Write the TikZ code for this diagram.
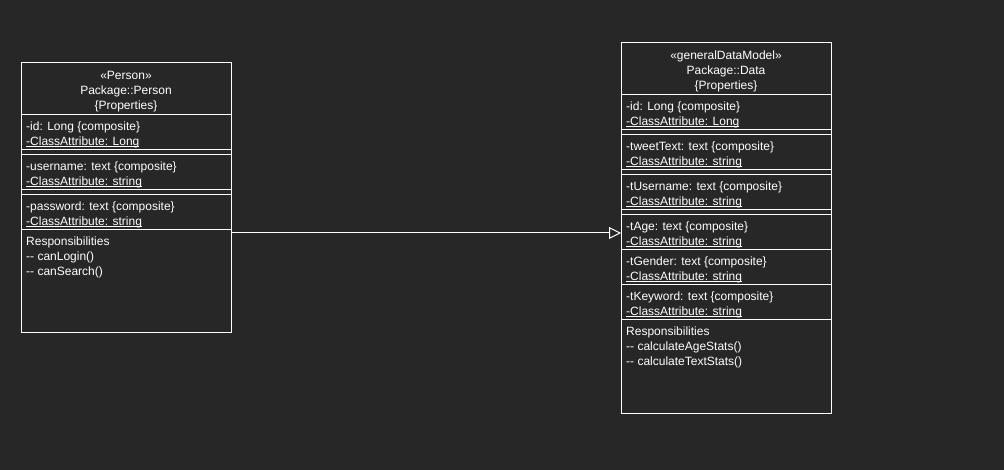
\documentclass[tikz,border=0pt]{standalone}
\usepackage{fontspec}
\setmainfont{Liberation Sans}
\usetikzlibrary{arrows.meta}
\definecolor{bg}{HTML}{272727}
\definecolor{fg}{HTML}{FFFFFF}
\tikzset{
  box/.style={draw=fg, line width=1pt, minimum width=210pt, anchor=north west, inner sep=0pt, outer sep=0pt},
  sep/.style={draw=fg, line width=1pt},
  attr/.style={text=fg, anchor=base west, inner sep=0pt, font=\fontsize{12pt}{15pt}\selectfont},
  head/.style={text=fg, anchor=base, inner sep=0pt, font=\fontsize{12pt}{15pt}\selectfont},
  gen/.style={draw=fg, line width=1pt, -{Triangle[open, length=12pt, width=12pt]}}
}
\newcommand{\ul}[1]{\setbox0\hbox{#1}\rlap{\rule[-2pt]{\wd0}{1pt}}\box0}
\begin{document}
\begin{tikzpicture}[x=1pt, y=-1pt]
\fill[bg] (0,0) rectangle (1004,470);
\useasboundingbox (0,0) rectangle (1004,470);
% ---------- Person ----------
\node[box, minimum height=270pt] (P) at (21,63) {};
\draw[sep] (P.west |- 0,115) -- (P.east |- 0,115);
\draw[sep] (P.west |- 0,150) -- (P.east |- 0,150);
\draw[sep] (P.west |- 0,155) -- (P.east |- 0,155);
\draw[sep] (P.west |- 0,190) -- (P.east |- 0,190);
\draw[sep] (P.west |- 0,195) -- (P.east |- 0,195);
\draw[sep] (P.west |- 0,230) -- (P.east |- 0,230);
\node[head] (ph1) at (126,80) {«Person»};
\node[head] (ph2) at (126,95) {Package::Person};
\node[head] (ph3) at (126,110) {\{Properties\}};
\node[attr] (pa1) at (26,130.5) {-id: Long \{composite\}};
\node[attr] (pa2) at (26,145.5) {\ul{-ClassAttribute: Long}};
\node[attr] (pa3) at (26,170.5) {-username: text \{composite\}};
\node[attr] (pa4) at (26,185.5) {\ul{-ClassAttribute: string}};
\node[attr] (pa5) at (26,210.5) {-password: text \{composite\}};
\node[attr] (pa6) at (26,225.5) {\ul{-ClassAttribute: string}};
\node[attr] (pr1) at (26,245.5) {Responsibilities};
\node[attr] (pr2) at (26,260.5) {-{}- canLogin()};
\node[attr] (pr3) at (26,275.5) {-{}- canSearch()};
% ---------- Data ----------
\node[box, minimum height=370pt] (D) at (621,43) {};
\foreach \yy in {95,130,135,170,175,210,215,250,285,320}
  \draw[sep] (D.west |- 0,\yy) -- (D.east |- 0,\yy);
\node[head] (dh1) at (726,60) {«generalDataModel»};
\node[head] (dh2) at (726,75) {Package::Data};
\node[head] (dh3) at (726,90) {\{Properties\}};
\node[attr] (da1) at (626,110.5) {-id: Long \{composite\}};
\node[attr] (da2) at (626,125.5) {\ul{-ClassAttribute: Long}};
\node[attr] (da3) at (626,150.5) {-tweetText: text \{composite\}};
\node[attr] (da4) at (626,165.5) {\ul{-ClassAttribute: string}};
\node[attr] (da5) at (626,190.5) {-tUsername: text \{composite\}};
\node[attr] (da6) at (626,205.5) {\ul{-ClassAttribute: string}};
\node[attr] (da7) at (626,230.5) {-tAge: text \{composite\}};
\node[attr] (da8) at (626,245.5) {\ul{-ClassAttribute: string}};
\node[attr] (da9) at (626,265.5) {-tGender: text \{composite\}};
\node[attr] (da10) at (626,280.5) {\ul{-ClassAttribute: string}};
\node[attr] (da11) at (626,300.5) {-tKeyword: text \{composite\}};
\node[attr] (da12) at (626,315.5) {\ul{-ClassAttribute: string}};
\node[attr] (dr1) at (626,335.5) {Responsibilities};
\node[attr] (dr2) at (626,350.5) {-{}- calculateAgeStats()};
\node[attr] (dr3) at (626,365.5) {-{}- calculateTextStats()};
% ---------- generalization ----------
\coordinate (lvl) at (0,233);
\draw[gen] (P.east |- lvl) -- (D.west |- lvl);
\end{tikzpicture}
\end{document}
